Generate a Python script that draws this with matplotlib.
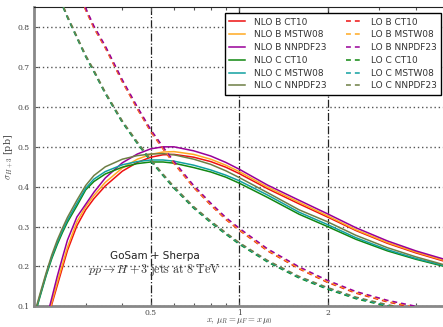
import numpy as np
import matplotlib
matplotlib.use("Agg")
import matplotlib.pyplot as plt
from matplotlib.ticker import FixedLocator, NullFormatter, LogLocator

plt.rcParams['mathtext.fontset'] = 'cm'

nan = np.nan
# scale factor x
xs = [0.2, 0.21, 0.22, 0.23, 0.24, 0.25, 0.26, 0.28, 0.3, 0.32, 0.35, 0.4, 0.45, 0.5,
      0.55, 0.6, 0.7, 0.8, 0.9, 1.0, 1.25, 1.6, 2.0, 2.5, 3.2, 4.0, 5.0]

# NLO curves
nlo_b_ct10 = [nan, nan, 0.055, 0.105, 0.152, 0.197, 0.240, 0.302, 0.342, 0.370, 0.402, 0.439,
              0.461, 0.474, 0.480, 0.481, 0.474, 0.463, 0.449, 0.433, 0.395, 0.357, 0.324,
              0.290, 0.258, 0.234, 0.213]
nlo_b_mstw = [nan, nan, 0.060, 0.110, 0.160, 0.205, 0.248, 0.312, 0.350, 0.378, 0.411, 0.447,
              0.469, 0.481, 0.487, 0.488, 0.481, 0.469, 0.454, 0.438, 0.399, 0.361, 0.327,
              0.292, 0.260, 0.236, 0.215]
nlo_b_nnpdf = [nan, nan, 0.066, 0.121, 0.175, 0.222, 0.266, 0.324, 0.356, 0.386, 0.422, 0.460,
               0.482, 0.495, 0.500, 0.500, 0.490, 0.477, 0.461, 0.444, 0.404, 0.366, 0.332,
               0.297, 0.264, 0.239, 0.218]
nlo_c_ct10 = [0.072, 0.126, 0.177, 0.220, 0.255, 0.285, 0.311, 0.352, 0.392, 0.413, 0.432, 0.449,
              0.458, 0.462, 0.462, 0.459, 0.448, 0.437, 0.424, 0.409, 0.373, 0.331, 0.300,
              0.268, 0.239, 0.218, 0.200]
nlo_c_mstw = [0.074, 0.129, 0.180, 0.224, 0.260, 0.290, 0.316, 0.358, 0.396, 0.419, 0.438, 0.455,
              0.463, 0.467, 0.467, 0.464, 0.454, 0.442, 0.429, 0.415, 0.379, 0.336, 0.305,
              0.272, 0.242, 0.220, 0.202]
nlo_c_nnpdf = [0.078, 0.133, 0.184, 0.229, 0.266, 0.296, 0.323, 0.366, 0.403, 0.428, 0.450, 0.469,
               0.478, 0.482, 0.483, 0.480, 0.469, 0.456, 0.440, 0.423, 0.385, 0.342, 0.312,
               0.278, 0.247, 0.224, 0.204]
# LO curves
lo_b_ct10 = [nan, nan, 1.148, 1.098, 1.058, 1.008, 0.968, 0.898, 0.843, 0.798, 0.748, 0.663,
             0.595, 0.538, 0.495, 0.458, 0.398, 0.354, 0.318, 0.291, 0.239, 0.194, 0.160,
             0.133, 0.111, 0.096, 0.083]
lo_b_mstw = [nan, nan, 1.150, 1.100, 1.060, 1.010, 0.970, 0.900, 0.845, 0.800, 0.750, 0.665,
             0.597, 0.540, 0.497, 0.460, 0.400, 0.356, 0.320, 0.293, 0.241, 0.196, 0.162,
             0.135, 0.113, 0.098, 0.085]
lo_b_nnpdf = [nan, nan, 1.153, 1.103, 1.063, 1.013, 0.973, 0.903, 0.848, 0.803, 0.753, 0.668,
              0.600, 0.543, 0.500, 0.463, 0.403, 0.359, 0.323, 0.296, 0.244, 0.199, 0.165,
              0.137, 0.115, 0.100, 0.087]
lo_c_ct10 = [1.048, 0.998, 0.961, 0.923, 0.888, 0.854, 0.824, 0.773, 0.726, 0.688, 0.633, 0.561,
             0.508, 0.464, 0.428, 0.396, 0.346, 0.310, 0.281, 0.256, 0.211, 0.171, 0.143,
             0.119, 0.100, 0.086, 0.074]
lo_c_mstw = [1.050, 1.000, 0.963, 0.925, 0.890, 0.856, 0.826, 0.775, 0.728, 0.690, 0.635, 0.563,
             0.510, 0.466, 0.430, 0.398, 0.348, 0.312, 0.283, 0.258, 0.213, 0.173, 0.145,
             0.121, 0.102, 0.088, 0.076]
lo_c_nnpdf = [1.052, 1.002, 0.965, 0.927, 0.892, 0.858, 0.828, 0.777, 0.730, 0.692, 0.637, 0.565,
              0.512, 0.468, 0.432, 0.400, 0.350, 0.314, 0.285, 0.260, 0.215, 0.175, 0.147,
              0.123, 0.104, 0.090, 0.078]

labels = ["NLO B CT10", "NLO B MSTW08", "NLO B NNPDF23",
          "NLO C CT10", "NLO C MSTW08", "NLO C NNPDF23",
          "LO B CT10", "LO B MSTW08", "LO B NNPDF23",
          "LO C CT10", "LO C MSTW08", "LO C NNPDF23"]
colors = ['#ee1111', '#ffaa22', '#990099', '#118811', '#11a0a0', '#6e7f45']

x_ticks = [0.5, 1, 2]
x_ticklabels = ['0.5', '1', '2']
y_ticks = [0.1, 0.2, 0.3, 0.4, 0.5, 0.6, 0.7, 0.8]

fig = plt.figure(figsize=(4.43, 3.27), dpi=100)
W, H = 443, 327
ax = fig.add_axes([34 / W, 1 - 306.3 / H, (444.3 - 34) / W, (306.3 - 7.3) / H])

nlo = [nlo_b_ct10, nlo_b_mstw, nlo_b_nnpdf, nlo_c_ct10, nlo_c_mstw, nlo_c_nnpdf]
lo = [lo_b_ct10, lo_b_mstw, lo_b_nnpdf, lo_c_ct10, lo_c_mstw, lo_c_nnpdf]

handles = []
for i, ys in enumerate(nlo):
    h, = ax.plot(xs, ys, color=colors[i], lw=1.1, label=labels[i], zorder=3)
    handles.append(h)
for i, ys in enumerate(lo):
    h, = ax.plot(xs, ys, color=colors[i], lw=1.1, ls=(0, (3.2, 2.6)), label=labels[6 + i], zorder=3)
    handles.append(h)

ax.set_xscale('log')
ax.set_xlim(0.2, 5)
ax.set_ylim(0.1, 0.85)

ax.xaxis.set_major_locator(FixedLocator(x_ticks))
ax.set_xticklabels(x_ticklabels)
ax.xaxis.set_minor_locator(LogLocator(base=10, subs=np.arange(2, 10) * 0.1, numticks=20))
ax.xaxis.set_minor_formatter(NullFormatter())
ax.set_yticks(y_ticks)
ax.set_yticklabels([f'{v:.1f}' for v in y_ticks])

for lab in ax.get_xticklabels() + ax.get_yticklabels():
    lab.set_fontfamily('DejaVu Serif')
    lab.set_fontsize(5.5)
    lab.set_color('#444444')

ax.tick_params(which='both', direction='in', top=True, right=False, length=3, width=0.8,
               color='#555555', pad=3)
ax.tick_params(axis='x', which='both', pad=2)
ax.tick_params(which='minor', length=2)

ax.yaxis.grid(True, linestyle=(0, (1, 2)), color='#555555', lw=1.0)
ax.xaxis.grid(True, which='major', linestyle='-.', color='#222222', lw=0.9)
ax.set_axisbelow(True)

ax.spines['left'].set_color('#888888')
ax.spines['left'].set_linewidth(2.0)
ax.spines['bottom'].set_color('#888888')
ax.spines['bottom'].set_linewidth(2.0)
ax.spines['bottom'].set_linestyle((0, (1.5, 1)))
ax.spines['top'].set_color('#222222')
ax.spines['top'].set_linewidth(0.8)
ax.spines['right'].set_visible(False)

ax.set_ylabel(r'$\sigma_{H+3}$ [pb]', fontsize=6.8, family='DejaVu Serif', color='#444444', labelpad=1.5)
ax.set_xlabel(r'$x,\,\mu_R=\mu_F=x\,\mu_0$', fontsize=6.3, color='#444444')
ax.xaxis.set_label_coords(0.5, -0.034)

fig.text(154.5 / W, 1 - 256 / H, 'GoSam + Sherpa', ha='center', va='center', fontsize=7.5,
         family='DejaVu Sans', color='#222222')
fig.text(154.5 / W, 1 - 270.5 / H, r'$pp \rightarrow H+3\ \mathrm{jets\ at\ 8\ TeV}$', ha='center',
         va='center', fontsize=8.7, color='#333333')

leg = ax.legend(handles=handles, ncol=2, loc='upper right',
                bbox_to_anchor=((441 - 34) / 410.3, (306.3 - 13) / 299), borderaxespad=0,
                fontsize=6.5, handlelength=1.7, handletextpad=1.0, columnspacing=2.2,
                labelspacing=0.42, frameon=True, fancybox=False, framealpha=1,
                edgecolor='black', borderpad=0.5)
leg.get_frame().set_linewidth(1.0)
for t in leg.get_texts():
    t.set_color('#333333')

fig.savefig('out.png', dpi=100)
